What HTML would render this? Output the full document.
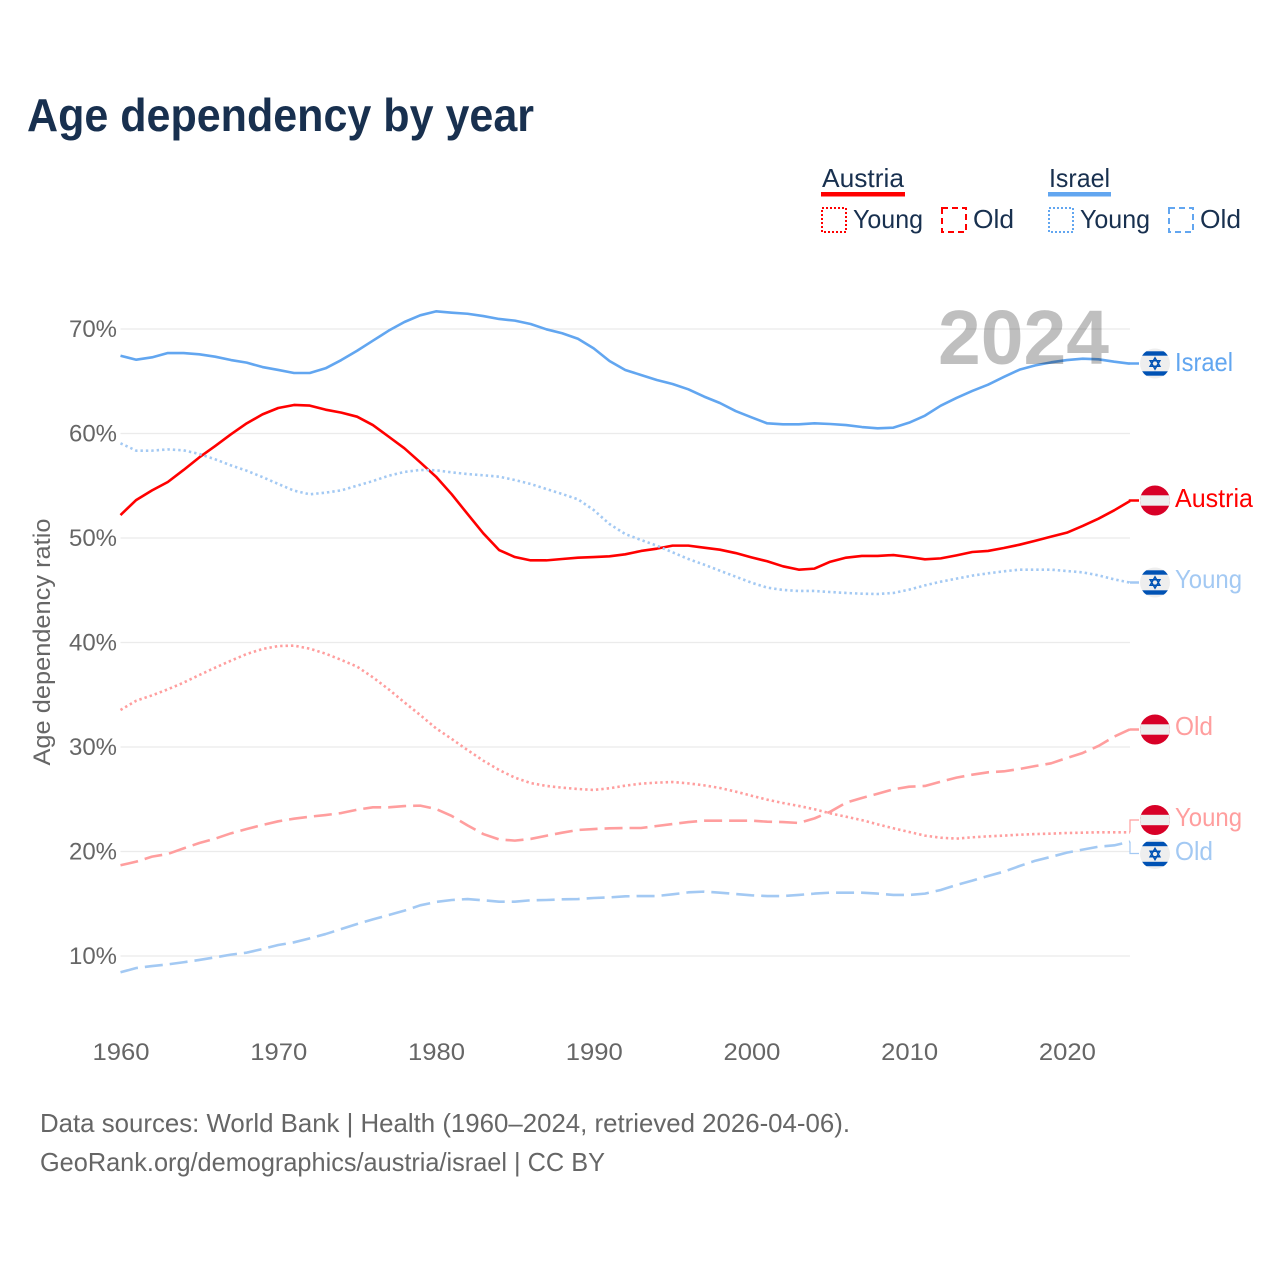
<!DOCTYPE html>
<html lang="en">
<head>
<meta charset="utf-8">
<title>Age dependency by year</title>
<style>
html,body{margin:0;padding:0;background:#fff;width:1280px;height:1280px;overflow:hidden}
svg{display:block;font-family:"Liberation Sans",sans-serif}
</style>
</head>
<body>
<svg id="chart" xmlns="http://www.w3.org/2000/svg" width="1280" height="1280" viewBox="0 0 1280 1280">
  <defs>
    <clipPath id="flag-clip"><circle cx="0" cy="0" r="15"></circle></clipPath>
    <g id="flag-at" clip-path="url(#flag-clip)">
      <rect x="-15" y="-16" width="30" height="32" fill="#d80027"></rect>
      <rect x="-15" y="-5.2" width="30" height="10.4" fill="#eeeeee"></rect>
    </g>
    <g id="flag-il" clip-path="url(#flag-clip)">
      <circle cx="0" cy="0" r="16" fill="#eeeeee"></circle>
      <rect x="-15" y="-12.2" width="30" height="4.4" fill="#0052b4"></rect>
      <rect x="-15" y="7.8" width="30" height="4.4" fill="#0052b4"></rect>
      <path d="M0-5.6 4.85 2.8H-4.85ZM0 5.6-4.85-2.8H4.85Z" fill="none" stroke="#0052b4" stroke-width="1.5"></path>
    </g>
  </defs>

  <text x="27" y="131" font-size="46" font-weight="700" fill="#18304f" textLength="507" lengthAdjust="spacingAndGlyphs">Age dependency by year</text>

  <g font-size="26" fill="#18304f">
    <text x="822" y="187" textLength="82" lengthAdjust="spacingAndGlyphs">Austria</text>
    <rect x="821" y="192" width="84" height="4.5" fill="#ff0000"></rect>
    <rect x="822" y="208" width="24" height="24" fill="none" stroke="#ff0000" stroke-width="2" stroke-dasharray="2 2"></rect>
    <text x="853" y="228" textLength="70" lengthAdjust="spacingAndGlyphs">Young</text>
    <rect x="942" y="208" width="24" height="24" fill="none" stroke="#ff0000" stroke-width="2" stroke-dasharray="6 4"></rect>
    <text x="973" y="228" textLength="41" lengthAdjust="spacingAndGlyphs">Old</text>
    <text x="1049" y="187" textLength="61" lengthAdjust="spacingAndGlyphs">Israel</text>
    <rect x="1048" y="192" width="63" height="4.5" fill="#62a6f0"></rect>
    <rect x="1049" y="208" width="24" height="24" fill="none" stroke="#62a6f0" stroke-width="2" stroke-dasharray="2 2"></rect>
    <text x="1080" y="228" textLength="70" lengthAdjust="spacingAndGlyphs">Young</text>
    <rect x="1169" y="208" width="24" height="24" fill="none" stroke="#62a6f0" stroke-width="2" stroke-dasharray="6 4"></rect>
    <text x="1200" y="228" textLength="41" lengthAdjust="spacingAndGlyphs">Old</text>
  </g>

  <g id="grid"></g>
  <g id="y-ticks"></g>
  <g id="x-ticks"></g>
  <text transform="translate(50,642) rotate(-90)" text-anchor="middle" font-size="24" fill="#666666" textLength="247" lengthAdjust="spacingAndGlyphs">Age dependency ratio</text>

  <g id="series"></g>
  <g id="connectors"></g>

  <text x="938" y="364" font-size="77" font-weight="700" fill="#000000" fill-opacity="0.25" textLength="171" lengthAdjust="spacingAndGlyphs">2024</text>

  <g font-size="26">
    <use href="#flag-il" x="1155" y="363.5"></use>
    <text x="1175" y="371" fill="#62a6f0" textLength="58" lengthAdjust="spacingAndGlyphs">Israel</text>
    <use href="#flag-at" x="1155" y="500.5"></use>
    <text x="1175" y="507" fill="#ff0000" textLength="78" lengthAdjust="spacingAndGlyphs">Austria</text>
    <use href="#flag-il" x="1155" y="582.5"></use>
    <text x="1175" y="588" fill="#a3c9f3" textLength="67" lengthAdjust="spacingAndGlyphs">Young</text>
    <use href="#flag-at" x="1155" y="729.5"></use>
    <text x="1175" y="735" fill="#ff9e9e" textLength="38" lengthAdjust="spacingAndGlyphs">Old</text>
    <use href="#flag-at" x="1155" y="820"></use>
    <text x="1175" y="826" fill="#ff9e9e" textLength="67" lengthAdjust="spacingAndGlyphs">Young</text>
    <use href="#flag-il" x="1155" y="854"></use>
    <text x="1175" y="860" fill="#a3c9f3" textLength="38" lengthAdjust="spacingAndGlyphs">Old</text>
  </g>

  <g font-size="26" fill="#666666">
    <text x="40" y="1132" textLength="810" lengthAdjust="spacingAndGlyphs">Data sources: World Bank | Health (1960–2024, retrieved 2026-04-06).</text>
    <text x="40" y="1171" textLength="565" lengthAdjust="spacingAndGlyphs">GeoRank.org/demographics/austria/israel | CC BY</text>
  </g>
</svg>

<script>
const startYear = 1960;
const yTickValues = [10, 20, 30, 40, 50, 60, 70];
const xTickValues = [1960, 1970, 1980, 1990, 2000, 2010, 2020];

const israelTotal = [67.44,67.06,67.29,67.70,67.70,67.58,67.35,67.03,66.78,66.36,66.08,65.79,65.79,66.24,67.03,67.92,68.88,69.84,70.67,71.31,71.69,71.56,71.46,71.24,70.96,
70.80,70.48,69.97,69.59,69.07,68.15,66.94,66.08,65.60,65.12,64.74,64.23,63.53,62.92,62.15,61.55,60.97,60.88,60.88,60.97,60.91,60.81,60.62,60.50,60.56,61.04,61.71,62.66,63.40,64.07,64.67,65.41,66.11,66.52,66.81,67.03,67.16,67.10,66.87,66.68];

const austriaTotal = [52.20,53.64,54.56,55.36,56.51,57.72,58.80,59.92,60.97,61.83,62.44,62.73,62.67,62.28,62.00,61.61,60.81,59.70,58.58,57.24,55.87,54.18,52.30,50.45,48.85,
48.18,47.86,47.86,47.99,48.12,48.18,48.25,48.44,48.76,48.98,49.27,49.27,49.07,48.88,48.56,48.15,47.77,47.29,46.97,47.07,47.73,48.12,48.28,48.28,48.37,48.18,47.96,48.05,48.34,48.66,48.76,49.04,49.36,49.74,50.13,50.51,51.15,51.85,52.65,53.54];

const israelYoung = [59.06,58.36,58.36,58.48,58.39,58.04,57.53,56.95,56.44,55.83,55.17,54.53,54.18,54.34,54.56,55.01,55.45,55.96,56.32,56.51,56.48,56.28,56.12,56.00,55.87,
55.55,55.17,54.69,54.21,53.70,52.68,51.34,50.38,49.81,49.27,48.63,47.99,47.45,46.87,46.30,45.73,45.25,45.03,44.93,44.93,44.83,44.74,44.67,44.64,44.74,45.06,45.47,45.82,46.11,46.40,46.62,46.81,46.97,46.97,46.97,46.84,46.71,46.43,46.04,45.73];

const austriaYoung = [33.54,34.43,34.94,35.52,36.16,36.89,37.59,38.26,38.90,39.38,39.66,39.70,39.41,38.93,38.33,37.69,36.67,35.52,34.27,33.06,31.79,30.77,29.71,28.69,27.80,27.07,26.55,26.27,26.11,25.98,25.89,
26.05,26.30,26.49,26.59,26.65,26.52,26.33,26.08,25.73,25.34,24.96,24.64,24.36,24.04,23.65,23.33,23.00,22.60,22.22,21.87,21.52,21.32,21.23,21.36,21.45,21.52,21.61,21.67,21.71,21.77,21.80,21.84,21.84,21.84];

const austriaOld = [18.68,19.03,19.51,19.76,20.30,20.81,21.23,21.74,22.15,22.54,22.89,23.14,23.33,23.49,23.68,24.00,24.23,24.23,24.35,24.39,24.07,23.40,22.50,21.67,21.16,21.04,21.20,21.51,21.80,22.06,22.15,
22.22,22.25,22.25,22.44,22.63,22.82,22.95,22.95,22.95,22.95,22.85,22.82,22.73,23.17,23.81,24.67,25.12,25.53,25.95,26.20,26.27,26.68,27.07,27.35,27.58,27.67,27.90,28.18,28.44,28.95,29.43,30.10,30.99,31.69];

const israelOld = [8.44,8.85,9.04,9.20,9.40,9.62,9.87,10.13,10.32,10.67,11.05,11.31,11.69,12.10,12.58,13.06,13.51,13.92,14.34,14.85,15.17,15.36,15.45,15.33,15.20,15.20,15.33,15.36,15.42,15.45,15.55,
15.61,15.71,15.74,15.74,15.90,16.09,16.16,16.06,15.93,15.81,15.74,15.74,15.84,15.97,16.06,16.06,16.06,15.97,15.84,15.84,15.97,16.32,16.80,17.21,17.66,18.07,18.61,19.12,19.49,19.89,20.18,20.46,20.59,20.94];

const SVG_NS = 'http://www.w3.org/2000/svg';

function xScale(year) {
  return 120.5 + (year - 1960) * (1130 - 120.5) / 64;
}
function yScale(value) {
  return 956 - (value - 10) * 10.45;
}
function linePath(values) {
  return values.map(function (v, i) {
    return (i ? 'L' : 'M') + xScale(startYear + i).toFixed(2) + ' ' + yScale(v).toFixed(2);
  }).join('');
}

const gridGroup = document.getElementById('grid');
const yTickGroup = document.getElementById('y-ticks');
const xTickGroup = document.getElementById('x-ticks');
const seriesGroup = document.getElementById('series');
const connectorGroup = document.getElementById('connectors');

yTickValues.forEach(function (tick) {
  const line = document.createElementNS(SVG_NS, 'line');
  
  
  line.setAttribute('x1', xScale(1960));
  line.setAttribute('x2', xScale(2024));
  line.setAttribute('y1', yScale(tick));
  line.setAttribute('y2', yScale(tick));
  line.setAttribute('stroke', '#ebebeb');
  line.setAttribute('stroke-width', '1.3');
  gridGroup.appendChild(line);

  const label = document.createElementNS(SVG_NS, 'text');
  
  
  label.setAttribute('x', '69');
  label.setAttribute('y', yScale(tick) + 8);
  label.setAttribute('font-size', '24');
  label.setAttribute('fill', '#666666');
  label.setAttribute('textLength', '48');
  label.setAttribute('lengthAdjust', 'spacingAndGlyphs');
  label.textContent = tick + '%';
  yTickGroup.appendChild(label);
});

xTickValues.forEach(function (tick) {
  const label = document.createElementNS(SVG_NS, 'text');
  
  
  label.setAttribute('x', xScale(tick) - 28);
  label.setAttribute('y', '1060');
  label.setAttribute('font-size', '24');
  label.setAttribute('fill', '#666666');
  label.setAttribute('textLength', '57');
  label.setAttribute('lengthAdjust', 'spacingAndGlyphs');
  label.textContent = tick;
  xTickGroup.appendChild(label);
});

function drawSeries(name, values, color, dash) {
  const path = document.createElementNS(SVG_NS, 'path');
  
  
  path.setAttribute('d', linePath(values));
  path.setAttribute('fill', 'none');
  path.setAttribute('stroke', color);
  path.setAttribute('stroke-width', '2.6');
  path.setAttribute('stroke-linejoin', 'round');
  if (dash) {
    path.setAttribute('stroke-dasharray', dash);
  }
  seriesGroup.appendChild(path);
}

drawSeries('line-israel-total', israelTotal, '#62a6f0', '');
drawSeries('line-austria-total', austriaTotal, '#ff0000', '');
drawSeries('line-israel-young', israelYoung, '#a3c9f3', '2.4 3');
drawSeries('line-austria-young', austriaYoung, '#ff9e9e', '2.4 3');
drawSeries('line-austria-old', austriaOld, '#ff9e9e', '18 7');
drawSeries('line-israel-old', israelOld, '#a3c9f3', '18 7');

function drawConnector(name, values, labelY, color, width) {
  const x0 = xScale(2024);
  const y0 = yScale(values[values.length - 1]);
  const path = document.createElementNS(SVG_NS, 'path');
  
  
  path.setAttribute('d', 'M' + x0 + ' ' + y0 + 'V' + labelY + 'H1139');
  path.setAttribute('fill', 'none');
  path.setAttribute('stroke', color);
  path.setAttribute('stroke-width', width);
  connectorGroup.appendChild(path);
}

drawConnector('connector-israel-total', israelTotal, 363.5, '#62a6f0', '2.4');
drawConnector('connector-austria-total', austriaTotal, 500.5, '#ff0000', '2.4');
drawConnector('connector-israel-young', israelYoung, 582.5, '#a3c9f3', '2.4');
drawConnector('connector-austria-old', austriaOld, 729.5, '#ff9e9e', '2.4');
drawConnector('connector-austria-young', austriaYoung, 820, '#ff9e9e', '1.2');
drawConnector('connector-israel-old', israelOld, 853.5, '#a3c9f3', '1.2');
</script>
</body>
</html>
